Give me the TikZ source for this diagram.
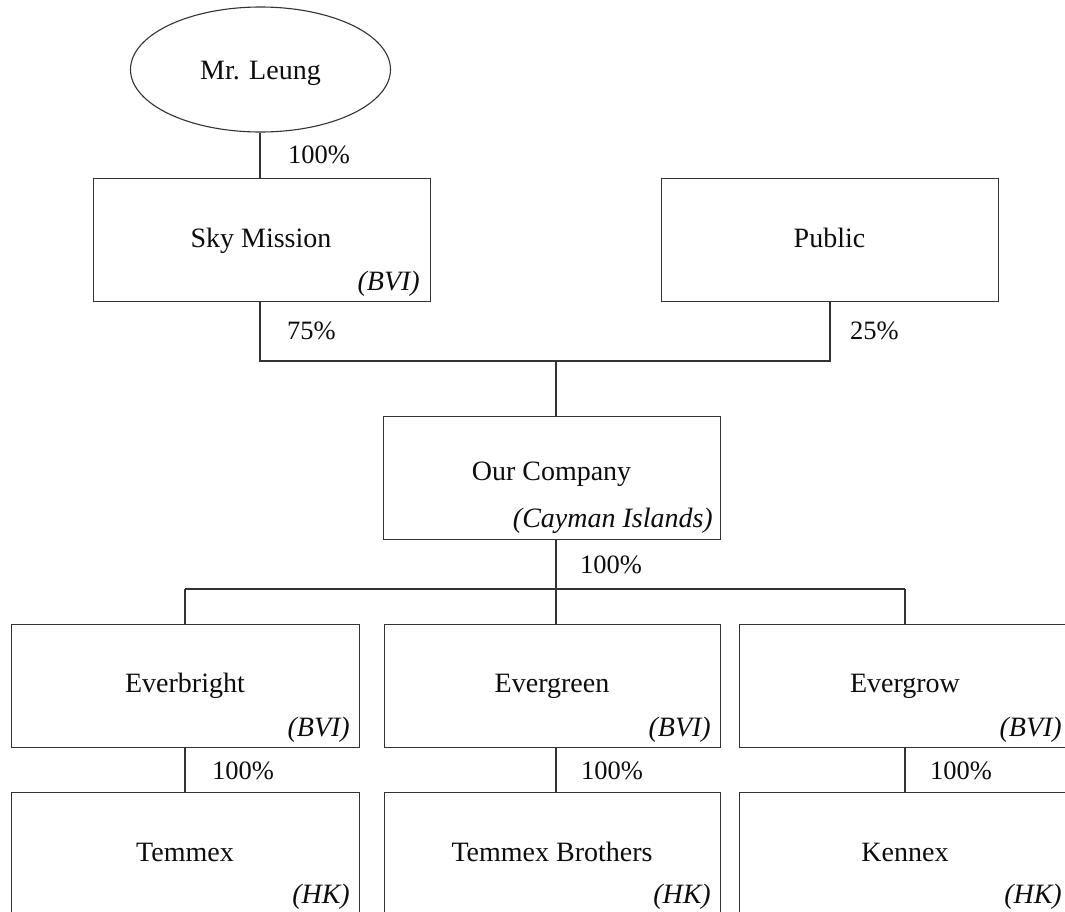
\documentclass[tikz,border=0pt]{standalone}
\usepackage{fontspec}
\setmainfont{Liberation Serif}
\usetikzlibrary{shapes.geometric}
\begin{document}
\begin{tikzpicture}[x=1pt,y=-1pt,
  box/.style={draw=black!80,line width=1.3pt,rectangle,inner sep=0pt,anchor=north west},
  oval/.style={draw=black!80,line width=1.1pt,ellipse,inner sep=0pt,minimum width=260pt,minimum height=125pt},
  conn/.style={draw=black!80,line width=1.2pt},
  txt/.style={inner sep=0pt,anchor=base,text=black!95,font=\fontsize{28}{32}\selectfont},
  loc/.style={inner sep=0pt,anchor=base east,text=black!95,font=\fontsize{28}{32}\selectfont\itshape},
  pct/.style={inner sep=0pt,anchor=base west,text=black!95,font=\fontsize{26.5}{30}\selectfont}]
\useasboundingbox (0,0) rectangle (1065,911);
\fill[white] (0,0) rectangle (1065,911);
\clip (0,0) rectangle (1065,911);
% nodes
\node[oval] (leung) at (260.5,69.5) {};
\node[box,minimum width=337.5pt,minimum height=123pt] (sky) at (92.5,178) {};
\node[box,minimum width=337pt,minimum height=123pt] (pub) at (661,178) {};
\node[box,minimum width=337pt,minimum height=123pt] (our) at (383,415.5) {};
\node[box,minimum width=348pt,minimum height=123.5pt] (evb) at (11,623.5) {};
\node[box,minimum width=336pt,minimum height=123.5pt] (evgn) at (384,623.5) {};
\node[box,minimum width=333pt,minimum height=123.5pt] (evgw) at (738.5,623.5) {};
\node[box,minimum width=348pt,minimum height=123.5pt] (tem) at (11,792) {};
\node[box,minimum width=336pt,minimum height=123.5pt] (temb) at (384,792) {};
\node[box,minimum width=333pt,minimum height=123.5pt] (ken) at (738.5,792) {};
% texts
\node[txt] (tLeung) at (260.5,79) {Mr. Leung};
\node[txt] (tSky) at (261,247) {Sky Mission};
\node[txt] (tPub) at (829.5,247) {Public};
\node[txt] (tOur) at (551.5,480) {Our Company};
\node[txt] (tEvb) at (185,692) {Everbright};
\node[txt] (tEvgn) at (552,692) {Evergreen};
\node[txt] (tEvgw) at (905,692) {Evergrow};
\node[txt] (tTem) at (185,861) {Temmex};
\node[txt] (tTemb) at (552,861) {Temmex Brothers};
\node[txt] (tKen) at (905,861) {Kennex};
\node[loc] (lSky) at (420,290.5) {(BVI)};
\node[loc] (lOur) at (713,527.5) {(Cayman Islands)};
\node[loc] (lEvb) at (350,736) {(BVI)};
\node[loc] (lEvgn) at (711,736) {(BVI)};
\node[loc] (lEvgw) at (1062,736) {(BVI)};
\node[loc] (lTem) at (350,903) {(HK)};
\node[loc] (lTemb) at (711,903) {(HK)};
\node[loc] (lKen) at (1062,903) {(HK)};
% connectors
\coordinate (a1) at (260,178);
\coordinate (j1) at (260,361);
\coordinate (j2) at (830,361);
\coordinate (jm) at (556,361);
\coordinate (k0) at (556,589);
\coordinate (k1) at (185,589);
\coordinate (k3) at (905,589);
\path[conn] (leung.south -| a1) -- (a1);
\path[conn] (sky.south -| j1) -- (j1) -- (j2) -- (pub.south -| j2);
\path[conn] (jm) -- (jm |- our.north);
\path[conn] (our.south -| k0) -- (k0);
\path[conn] (k1) -- (k3);
\path[conn] (k1) -- (k1 |- evb.north);
\path[conn] (k0) -- (k0 |- evgn.north);
\path[conn] (k3) -- (k3 |- evgw.north);
\path[conn] (evb.south -| k1) -- (k1 |- tem.north);
\path[conn] (evgn.south -| k0) -- (k0 |- temb.north);
\path[conn] (evgw.south -| k3) -- (k3 |- ken.north);
% percentages
\node[pct] (p1) at (288,163) {100\%};
\node[pct] (p2) at (287,339) {75\%};
\node[pct] (p3) at (850,339) {25\%};
\node[pct] (p4) at (580,573) {100\%};
\node[pct] (p5) at (212,779) {100\%};
\node[pct] (p6) at (581,779) {100\%};
\node[pct] (p7) at (930,779) {100\%};
\end{tikzpicture}
\end{document}
